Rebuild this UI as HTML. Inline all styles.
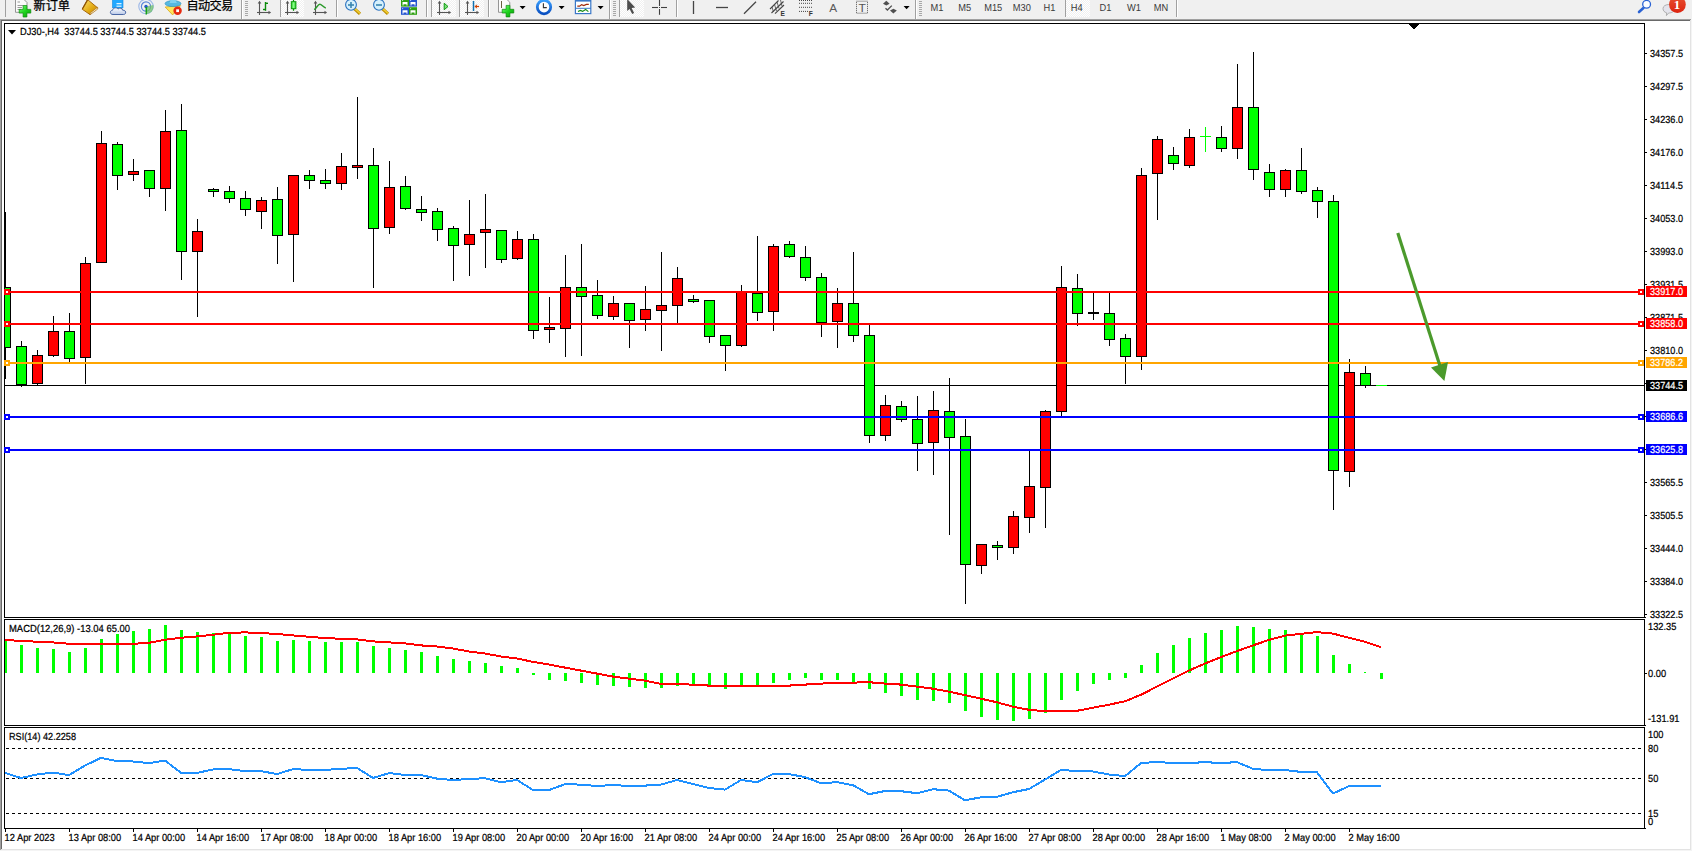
<!DOCTYPE html>
<html><head><meta charset="utf-8"><title>DJ30-,H4</title>
<style>html,body{margin:0;padding:0;background:#fff}body{width:1692px;height:851px;overflow:hidden}svg{display:block}text{white-space:pre}</style>
</head><body>
<svg width="1692" height="851" viewBox="0 0 1692 851">
<rect x="0" y="0" width="1692" height="851" fill="#ffffff"/>
<rect x="0" y="0" width="1692" height="19" fill="#f0f0f0"/>
<rect x="0" y="19" width="1691" height="1" fill="#a0a0a0"/>
<rect x="1" y="20" width="1689" height="1" fill="#696969"/>
<rect x="0" y="19" width="1" height="831" fill="#a0a0a0"/>
<rect x="1" y="20" width="1" height="829" fill="#696969"/>
<rect x="1690" y="20" width="1" height="830" fill="#e3e3e3"/>
<rect x="1691" y="19" width="1" height="832" fill="#f4f4f4"/>
<rect x="1" y="849" width="1690" height="1" fill="#e3e3e3"/>
<rect x="0" y="850" width="1692" height="1" fill="#f4f4f4"/>
<rect x="4" y="23" width="1641" height="1" fill="#000"/>
<rect x="4" y="617" width="1642" height="1" fill="#000"/>
<rect x="4" y="23" width="1" height="595" fill="#000"/>
<rect x="1644" y="23" width="1" height="595" fill="#000"/>
<rect x="4" y="619" width="1641" height="1" fill="#000"/>
<rect x="4" y="725" width="1642" height="1" fill="#000"/>
<rect x="4" y="619" width="1" height="107" fill="#000"/>
<rect x="1644" y="619" width="1" height="107" fill="#000"/>
<rect x="4" y="727" width="1641" height="1" fill="#000"/>
<rect x="4" y="828" width="1642" height="1" fill="#000"/>
<rect x="4" y="727" width="1" height="102" fill="#000"/>
<rect x="1644" y="727" width="1" height="102" fill="#000"/>
<g shape-rendering="crispEdges">
<clipPath id="cm"><rect x="5" y="24" width="1639" height="593"/></clipPath>
<g clip-path="url(#cm)">
<rect x="5" y="385" width="1639" height="1" fill="#000"/>
<rect x="5" y="212" width="1" height="167" fill="#000"/>
<rect x="0" y="287" width="11" height="61" fill="#000"/>
<rect x="1" y="288" width="9" height="59" fill="#00ff00"/>
<rect x="21" y="341" width="1" height="46" fill="#000"/>
<rect x="16" y="346" width="11" height="39" fill="#000"/>
<rect x="17" y="347" width="9" height="37" fill="#00ff00"/>
<rect x="37" y="350" width="1" height="35" fill="#000"/>
<rect x="32" y="355" width="11" height="29" fill="#000"/>
<rect x="33" y="356" width="9" height="27" fill="#ff0000"/>
<rect x="53" y="316" width="1" height="41" fill="#000"/>
<rect x="48" y="331" width="11" height="25" fill="#000"/>
<rect x="49" y="332" width="9" height="23" fill="#ff0000"/>
<rect x="69" y="313" width="1" height="49" fill="#000"/>
<rect x="64" y="331" width="11" height="28" fill="#000"/>
<rect x="65" y="332" width="9" height="26" fill="#00ff00"/>
<rect x="85" y="257" width="1" height="127" fill="#000"/>
<rect x="80" y="263" width="11" height="95" fill="#000"/>
<rect x="81" y="264" width="9" height="93" fill="#ff0000"/>
<rect x="101" y="131" width="1" height="132" fill="#000"/>
<rect x="96" y="143" width="11" height="120" fill="#000"/>
<rect x="97" y="144" width="9" height="118" fill="#ff0000"/>
<rect x="117" y="142" width="1" height="48" fill="#000"/>
<rect x="112" y="144" width="11" height="32" fill="#000"/>
<rect x="113" y="145" width="9" height="30" fill="#00ff00"/>
<rect x="133" y="159" width="1" height="22" fill="#000"/>
<rect x="128" y="171" width="11" height="4" fill="#000"/>
<rect x="129" y="172" width="9" height="2" fill="#ff0000"/>
<rect x="149" y="170" width="1" height="27" fill="#000"/>
<rect x="144" y="170" width="11" height="19" fill="#000"/>
<rect x="145" y="171" width="9" height="17" fill="#00ff00"/>
<rect x="165" y="110" width="1" height="101" fill="#000"/>
<rect x="160" y="131" width="11" height="58" fill="#000"/>
<rect x="161" y="132" width="9" height="56" fill="#ff0000"/>
<rect x="181" y="104" width="1" height="176" fill="#000"/>
<rect x="176" y="130" width="11" height="122" fill="#000"/>
<rect x="177" y="131" width="9" height="120" fill="#00ff00"/>
<rect x="197" y="219" width="1" height="98" fill="#000"/>
<rect x="192" y="231" width="11" height="21" fill="#000"/>
<rect x="193" y="232" width="9" height="19" fill="#ff0000"/>
<rect x="213" y="188" width="1" height="9" fill="#000"/>
<rect x="208" y="189" width="11" height="3" fill="#000"/>
<rect x="209" y="190" width="9" height="1" fill="#00ff00"/>
<rect x="229" y="186" width="1" height="17" fill="#000"/>
<rect x="224" y="191" width="11" height="8" fill="#000"/>
<rect x="225" y="192" width="9" height="6" fill="#00ff00"/>
<rect x="245" y="191" width="1" height="25" fill="#000"/>
<rect x="240" y="198" width="11" height="12" fill="#000"/>
<rect x="241" y="199" width="9" height="10" fill="#00ff00"/>
<rect x="261" y="197" width="1" height="32" fill="#000"/>
<rect x="256" y="200" width="11" height="12" fill="#000"/>
<rect x="257" y="201" width="9" height="10" fill="#ff0000"/>
<rect x="277" y="187" width="1" height="77" fill="#000"/>
<rect x="272" y="199" width="11" height="37" fill="#000"/>
<rect x="273" y="200" width="9" height="35" fill="#00ff00"/>
<rect x="293" y="175" width="1" height="107" fill="#000"/>
<rect x="288" y="175" width="11" height="60" fill="#000"/>
<rect x="289" y="176" width="9" height="58" fill="#ff0000"/>
<rect x="309" y="170" width="1" height="19" fill="#000"/>
<rect x="304" y="175" width="11" height="6" fill="#000"/>
<rect x="305" y="176" width="9" height="4" fill="#00ff00"/>
<rect x="325" y="169" width="1" height="20" fill="#000"/>
<rect x="320" y="180" width="11" height="4" fill="#000"/>
<rect x="321" y="181" width="9" height="2" fill="#00ff00"/>
<rect x="341" y="153" width="1" height="37" fill="#000"/>
<rect x="336" y="166" width="11" height="18" fill="#000"/>
<rect x="337" y="167" width="9" height="16" fill="#ff0000"/>
<rect x="357" y="97" width="1" height="82" fill="#000"/>
<rect x="352" y="165" width="11" height="3" fill="#000"/>
<rect x="353" y="166" width="9" height="1" fill="#ff0000"/>
<rect x="373" y="148" width="1" height="140" fill="#000"/>
<rect x="368" y="165" width="11" height="64" fill="#000"/>
<rect x="369" y="166" width="9" height="62" fill="#00ff00"/>
<rect x="389" y="161" width="1" height="73" fill="#000"/>
<rect x="384" y="187" width="11" height="41" fill="#000"/>
<rect x="385" y="188" width="9" height="39" fill="#ff0000"/>
<rect x="405" y="176" width="1" height="34" fill="#000"/>
<rect x="400" y="186" width="11" height="23" fill="#000"/>
<rect x="401" y="187" width="9" height="21" fill="#00ff00"/>
<rect x="421" y="196" width="1" height="25" fill="#000"/>
<rect x="416" y="209" width="11" height="4" fill="#000"/>
<rect x="417" y="210" width="9" height="2" fill="#00ff00"/>
<rect x="437" y="208" width="1" height="33" fill="#000"/>
<rect x="432" y="211" width="11" height="19" fill="#000"/>
<rect x="433" y="212" width="9" height="17" fill="#00ff00"/>
<rect x="453" y="226" width="1" height="55" fill="#000"/>
<rect x="448" y="228" width="11" height="18" fill="#000"/>
<rect x="449" y="229" width="9" height="16" fill="#00ff00"/>
<rect x="469" y="200" width="1" height="76" fill="#000"/>
<rect x="464" y="234" width="11" height="11" fill="#000"/>
<rect x="465" y="235" width="9" height="9" fill="#ff0000"/>
<rect x="485" y="194" width="1" height="74" fill="#000"/>
<rect x="480" y="229" width="11" height="4" fill="#000"/>
<rect x="481" y="230" width="9" height="2" fill="#ff0000"/>
<rect x="501" y="230" width="1" height="33" fill="#000"/>
<rect x="496" y="230" width="11" height="30" fill="#000"/>
<rect x="497" y="231" width="9" height="28" fill="#00ff00"/>
<rect x="517" y="231" width="1" height="29" fill="#000"/>
<rect x="512" y="239" width="11" height="20" fill="#000"/>
<rect x="513" y="240" width="9" height="18" fill="#ff0000"/>
<rect x="533" y="234" width="1" height="105" fill="#000"/>
<rect x="528" y="239" width="11" height="92" fill="#000"/>
<rect x="529" y="240" width="9" height="90" fill="#00ff00"/>
<rect x="549" y="297" width="1" height="46" fill="#000"/>
<rect x="544" y="327" width="11" height="3" fill="#000"/>
<rect x="545" y="328" width="9" height="1" fill="#ff0000"/>
<rect x="565" y="255" width="1" height="102" fill="#000"/>
<rect x="560" y="287" width="11" height="42" fill="#000"/>
<rect x="561" y="288" width="9" height="40" fill="#ff0000"/>
<rect x="581" y="244" width="1" height="112" fill="#000"/>
<rect x="576" y="287" width="11" height="10" fill="#000"/>
<rect x="577" y="288" width="9" height="8" fill="#00ff00"/>
<rect x="597" y="280" width="1" height="39" fill="#000"/>
<rect x="592" y="295" width="11" height="21" fill="#000"/>
<rect x="593" y="296" width="9" height="19" fill="#00ff00"/>
<rect x="613" y="296" width="1" height="24" fill="#000"/>
<rect x="608" y="303" width="11" height="14" fill="#000"/>
<rect x="609" y="304" width="9" height="12" fill="#ff0000"/>
<rect x="629" y="303" width="1" height="45" fill="#000"/>
<rect x="624" y="303" width="11" height="18" fill="#000"/>
<rect x="625" y="304" width="9" height="16" fill="#00ff00"/>
<rect x="645" y="286" width="1" height="45" fill="#000"/>
<rect x="640" y="309" width="11" height="11" fill="#000"/>
<rect x="641" y="310" width="9" height="9" fill="#ff0000"/>
<rect x="661" y="252" width="1" height="99" fill="#000"/>
<rect x="656" y="305" width="11" height="6" fill="#000"/>
<rect x="657" y="306" width="9" height="4" fill="#ff0000"/>
<rect x="677" y="267" width="1" height="56" fill="#000"/>
<rect x="672" y="278" width="11" height="28" fill="#000"/>
<rect x="673" y="279" width="9" height="26" fill="#ff0000"/>
<rect x="693" y="295" width="1" height="8" fill="#000"/>
<rect x="688" y="299" width="11" height="3" fill="#000"/>
<rect x="689" y="300" width="9" height="1" fill="#00ff00"/>
<rect x="709" y="300" width="1" height="43" fill="#000"/>
<rect x="704" y="300" width="11" height="37" fill="#000"/>
<rect x="705" y="301" width="9" height="35" fill="#00ff00"/>
<rect x="725" y="335" width="1" height="36" fill="#000"/>
<rect x="720" y="335" width="11" height="11" fill="#000"/>
<rect x="721" y="336" width="9" height="9" fill="#00ff00"/>
<rect x="741" y="285" width="1" height="62" fill="#000"/>
<rect x="736" y="291" width="11" height="55" fill="#000"/>
<rect x="737" y="292" width="9" height="53" fill="#ff0000"/>
<rect x="757" y="236" width="1" height="85" fill="#000"/>
<rect x="752" y="293" width="11" height="20" fill="#000"/>
<rect x="753" y="294" width="9" height="18" fill="#00ff00"/>
<rect x="773" y="244" width="1" height="87" fill="#000"/>
<rect x="768" y="246" width="11" height="66" fill="#000"/>
<rect x="769" y="247" width="9" height="64" fill="#ff0000"/>
<rect x="789" y="241" width="1" height="17" fill="#000"/>
<rect x="784" y="244" width="11" height="13" fill="#000"/>
<rect x="785" y="245" width="9" height="11" fill="#00ff00"/>
<rect x="805" y="246" width="1" height="35" fill="#000"/>
<rect x="800" y="257" width="11" height="21" fill="#000"/>
<rect x="801" y="258" width="9" height="19" fill="#00ff00"/>
<rect x="821" y="273" width="1" height="64" fill="#000"/>
<rect x="816" y="277" width="11" height="46" fill="#000"/>
<rect x="817" y="278" width="9" height="44" fill="#00ff00"/>
<rect x="837" y="288" width="1" height="60" fill="#000"/>
<rect x="832" y="303" width="11" height="19" fill="#000"/>
<rect x="833" y="304" width="9" height="17" fill="#ff0000"/>
<rect x="853" y="252" width="1" height="90" fill="#000"/>
<rect x="848" y="303" width="11" height="33" fill="#000"/>
<rect x="849" y="304" width="9" height="31" fill="#00ff00"/>
<rect x="869" y="325" width="1" height="118" fill="#000"/>
<rect x="864" y="335" width="11" height="101" fill="#000"/>
<rect x="865" y="336" width="9" height="99" fill="#00ff00"/>
<rect x="885" y="395" width="1" height="46" fill="#000"/>
<rect x="880" y="405" width="11" height="31" fill="#000"/>
<rect x="881" y="406" width="9" height="29" fill="#ff0000"/>
<rect x="901" y="401" width="1" height="21" fill="#000"/>
<rect x="896" y="406" width="11" height="14" fill="#000"/>
<rect x="897" y="407" width="9" height="12" fill="#00ff00"/>
<rect x="917" y="396" width="1" height="75" fill="#000"/>
<rect x="912" y="419" width="11" height="25" fill="#000"/>
<rect x="913" y="420" width="9" height="23" fill="#00ff00"/>
<rect x="933" y="391" width="1" height="84" fill="#000"/>
<rect x="928" y="410" width="11" height="33" fill="#000"/>
<rect x="929" y="411" width="9" height="31" fill="#ff0000"/>
<rect x="949" y="378" width="1" height="157" fill="#000"/>
<rect x="944" y="411" width="11" height="27" fill="#000"/>
<rect x="945" y="412" width="9" height="25" fill="#00ff00"/>
<rect x="965" y="419" width="1" height="185" fill="#000"/>
<rect x="960" y="436" width="11" height="129" fill="#000"/>
<rect x="961" y="437" width="9" height="127" fill="#00ff00"/>
<rect x="981" y="544" width="1" height="30" fill="#000"/>
<rect x="976" y="544" width="11" height="22" fill="#000"/>
<rect x="977" y="545" width="9" height="20" fill="#ff0000"/>
<rect x="997" y="541" width="1" height="19" fill="#000"/>
<rect x="992" y="545" width="11" height="3" fill="#000"/>
<rect x="993" y="546" width="9" height="1" fill="#00ff00"/>
<rect x="1013" y="511" width="1" height="43" fill="#000"/>
<rect x="1008" y="516" width="11" height="32" fill="#000"/>
<rect x="1009" y="517" width="9" height="30" fill="#ff0000"/>
<rect x="1029" y="451" width="1" height="82" fill="#000"/>
<rect x="1024" y="486" width="11" height="32" fill="#000"/>
<rect x="1025" y="487" width="9" height="30" fill="#ff0000"/>
<rect x="1045" y="410" width="1" height="118" fill="#000"/>
<rect x="1040" y="411" width="11" height="77" fill="#000"/>
<rect x="1041" y="412" width="9" height="75" fill="#ff0000"/>
<rect x="1061" y="266" width="1" height="150" fill="#000"/>
<rect x="1056" y="287" width="11" height="125" fill="#000"/>
<rect x="1057" y="288" width="9" height="123" fill="#ff0000"/>
<rect x="1077" y="274" width="1" height="52" fill="#000"/>
<rect x="1072" y="288" width="11" height="26" fill="#000"/>
<rect x="1073" y="289" width="9" height="24" fill="#00ff00"/>
<rect x="1093" y="292" width="1" height="28" fill="#000"/>
<rect x="1088" y="312" width="11" height="2" fill="#000"/>
<rect x="1109" y="291" width="1" height="55" fill="#000"/>
<rect x="1104" y="313" width="11" height="27" fill="#000"/>
<rect x="1105" y="314" width="9" height="25" fill="#00ff00"/>
<rect x="1125" y="334" width="1" height="50" fill="#000"/>
<rect x="1120" y="338" width="11" height="19" fill="#000"/>
<rect x="1121" y="339" width="9" height="17" fill="#00ff00"/>
<rect x="1141" y="168" width="1" height="202" fill="#000"/>
<rect x="1136" y="175" width="11" height="182" fill="#000"/>
<rect x="1137" y="176" width="9" height="180" fill="#ff0000"/>
<rect x="1157" y="136" width="1" height="84" fill="#000"/>
<rect x="1152" y="139" width="11" height="35" fill="#000"/>
<rect x="1153" y="140" width="9" height="33" fill="#ff0000"/>
<rect x="1173" y="147" width="1" height="23" fill="#000"/>
<rect x="1168" y="155" width="11" height="9" fill="#000"/>
<rect x="1169" y="156" width="9" height="7" fill="#00ff00"/>
<rect x="1189" y="129" width="1" height="39" fill="#000"/>
<rect x="1184" y="137" width="11" height="29" fill="#000"/>
<rect x="1185" y="138" width="9" height="27" fill="#ff0000"/>
<rect x="1221" y="126" width="1" height="26" fill="#000"/>
<rect x="1216" y="137" width="11" height="12" fill="#000"/>
<rect x="1217" y="138" width="9" height="10" fill="#00ff00"/>
<rect x="1237" y="64" width="1" height="95" fill="#000"/>
<rect x="1232" y="107" width="11" height="42" fill="#000"/>
<rect x="1233" y="108" width="9" height="40" fill="#ff0000"/>
<rect x="1253" y="52" width="1" height="128" fill="#000"/>
<rect x="1248" y="107" width="11" height="63" fill="#000"/>
<rect x="1249" y="108" width="9" height="61" fill="#00ff00"/>
<rect x="1269" y="164" width="1" height="33" fill="#000"/>
<rect x="1264" y="172" width="11" height="18" fill="#000"/>
<rect x="1265" y="173" width="9" height="16" fill="#00ff00"/>
<rect x="1285" y="169" width="1" height="28" fill="#000"/>
<rect x="1280" y="170" width="11" height="20" fill="#000"/>
<rect x="1281" y="171" width="9" height="18" fill="#ff0000"/>
<rect x="1301" y="148" width="1" height="46" fill="#000"/>
<rect x="1296" y="170" width="11" height="22" fill="#000"/>
<rect x="1297" y="171" width="9" height="20" fill="#00ff00"/>
<rect x="1317" y="187" width="1" height="31" fill="#000"/>
<rect x="1312" y="190" width="11" height="12" fill="#000"/>
<rect x="1313" y="191" width="9" height="10" fill="#00ff00"/>
<rect x="1333" y="195" width="1" height="315" fill="#000"/>
<rect x="1328" y="201" width="11" height="270" fill="#000"/>
<rect x="1329" y="202" width="9" height="268" fill="#00ff00"/>
<rect x="1349" y="359" width="1" height="128" fill="#000"/>
<rect x="1344" y="372" width="11" height="100" fill="#000"/>
<rect x="1345" y="373" width="9" height="98" fill="#ff0000"/>
<rect x="1365" y="366" width="1" height="22" fill="#000"/>
<rect x="1360" y="373" width="11" height="13" fill="#000"/>
<rect x="1361" y="374" width="9" height="11" fill="#00ff00"/>
<rect x="1205" y="127" width="1" height="25" fill="#00ff00"/>
<rect x="1200" y="136" width="11" height="1" fill="#00ff00"/>
<rect x="1376" y="385" width="11" height="1" fill="#00ff00"/>
</g>
<rect x="5" y="291" width="1639" height="2" fill="#ff0000"/>
<rect x="4" y="289" width="6" height="6" fill="#ff0000"/>
<rect x="6" y="291" width="2" height="2" fill="#fff"/>
<rect x="1638" y="289" width="6" height="6" fill="#ff0000"/>
<rect x="1640" y="291" width="2" height="2" fill="#fff"/>
<rect x="5" y="323" width="1639" height="2" fill="#ff0000"/>
<rect x="4" y="321" width="6" height="6" fill="#ff0000"/>
<rect x="6" y="323" width="2" height="2" fill="#fff"/>
<rect x="1638" y="321" width="6" height="6" fill="#ff0000"/>
<rect x="1640" y="323" width="2" height="2" fill="#fff"/>
<rect x="5" y="362" width="1639" height="2" fill="#ffa500"/>
<rect x="4" y="360" width="6" height="6" fill="#ffa500"/>
<rect x="6" y="362" width="2" height="2" fill="#fff"/>
<rect x="1638" y="360" width="6" height="6" fill="#ffa500"/>
<rect x="1640" y="362" width="2" height="2" fill="#fff"/>
<rect x="5" y="416" width="1639" height="2" fill="#0000ff"/>
<rect x="4" y="414" width="6" height="6" fill="#0000ff"/>
<rect x="6" y="416" width="2" height="2" fill="#fff"/>
<rect x="1638" y="414" width="6" height="6" fill="#0000ff"/>
<rect x="1640" y="416" width="2" height="2" fill="#fff"/>
<rect x="5" y="449" width="1639" height="2" fill="#0000ff"/>
<rect x="4" y="447" width="6" height="6" fill="#0000ff"/>
<rect x="6" y="449" width="2" height="2" fill="#fff"/>
<rect x="1638" y="447" width="6" height="6" fill="#0000ff"/>
<rect x="1640" y="449" width="2" height="2" fill="#fff"/>
<polygon points="1408,24 1419,24 1413.5,29.5" fill="#000"/>
</g>
<line x1="1397.8" y1="233" x2="1440" y2="366" stroke="#4b9a2c" stroke-width="3.2"/>
<polygon points="1431,367.4 1448,362 1444.4,381" fill="#4b9a2c"/>
<g font-family="Liberation Sans, Noto Sans CJK SC, sans-serif">
<rect x="1645" y="53" width="2" height="1" fill="#000" shape-rendering="crispEdges"/>
<text text-rendering="geometricPrecision" transform="translate(1650,56.6) scale(1,1.1)" font-size="9.3" fill="#000" text-anchor="start" textLength="33" lengthAdjust="spacingAndGlyphs" stroke="#000" stroke-width="0.2">34357.5</text>
<rect x="1645" y="86" width="2" height="1" fill="#000" shape-rendering="crispEdges"/>
<text text-rendering="geometricPrecision" transform="translate(1650,89.6) scale(1,1.1)" font-size="9.3" fill="#000" text-anchor="start" textLength="33" lengthAdjust="spacingAndGlyphs" stroke="#000" stroke-width="0.2">34297.5</text>
<rect x="1645" y="119" width="2" height="1" fill="#000" shape-rendering="crispEdges"/>
<text text-rendering="geometricPrecision" transform="translate(1650,122.6) scale(1,1.1)" font-size="9.3" fill="#000" text-anchor="start" textLength="33" lengthAdjust="spacingAndGlyphs" stroke="#000" stroke-width="0.2">34236.0</text>
<rect x="1645" y="152" width="2" height="1" fill="#000" shape-rendering="crispEdges"/>
<text text-rendering="geometricPrecision" transform="translate(1650,155.6) scale(1,1.1)" font-size="9.3" fill="#000" text-anchor="start" textLength="33" lengthAdjust="spacingAndGlyphs" stroke="#000" stroke-width="0.2">34176.0</text>
<rect x="1645" y="185" width="2" height="1" fill="#000" shape-rendering="crispEdges"/>
<text text-rendering="geometricPrecision" transform="translate(1650,188.6) scale(1,1.1)" font-size="9.3" fill="#000" text-anchor="start" textLength="33" lengthAdjust="spacingAndGlyphs" stroke="#000" stroke-width="0.2">34114.5</text>
<rect x="1645" y="218" width="2" height="1" fill="#000" shape-rendering="crispEdges"/>
<text text-rendering="geometricPrecision" transform="translate(1650,221.6) scale(1,1.1)" font-size="9.3" fill="#000" text-anchor="start" textLength="33" lengthAdjust="spacingAndGlyphs" stroke="#000" stroke-width="0.2">34053.0</text>
<rect x="1645" y="251" width="2" height="1" fill="#000" shape-rendering="crispEdges"/>
<text text-rendering="geometricPrecision" transform="translate(1650,254.6) scale(1,1.1)" font-size="9.3" fill="#000" text-anchor="start" textLength="33" lengthAdjust="spacingAndGlyphs" stroke="#000" stroke-width="0.2">33993.0</text>
<rect x="1645" y="284" width="2" height="1" fill="#000" shape-rendering="crispEdges"/>
<text text-rendering="geometricPrecision" transform="translate(1650,287.6) scale(1,1.1)" font-size="9.3" fill="#000" text-anchor="start" textLength="33" lengthAdjust="spacingAndGlyphs" stroke="#000" stroke-width="0.2">33931.5</text>
<rect x="1645" y="317" width="2" height="1" fill="#000" shape-rendering="crispEdges"/>
<text text-rendering="geometricPrecision" transform="translate(1650,320.6) scale(1,1.1)" font-size="9.3" fill="#000" text-anchor="start" textLength="33" lengthAdjust="spacingAndGlyphs" stroke="#000" stroke-width="0.2">33871.5</text>
<rect x="1645" y="350" width="2" height="1" fill="#000" shape-rendering="crispEdges"/>
<text text-rendering="geometricPrecision" transform="translate(1650,353.6) scale(1,1.1)" font-size="9.3" fill="#000" text-anchor="start" textLength="33" lengthAdjust="spacingAndGlyphs" stroke="#000" stroke-width="0.2">33810.0</text>
<rect x="1645" y="482" width="2" height="1" fill="#000" shape-rendering="crispEdges"/>
<text text-rendering="geometricPrecision" transform="translate(1650,485.6) scale(1,1.1)" font-size="9.3" fill="#000" text-anchor="start" textLength="33" lengthAdjust="spacingAndGlyphs" stroke="#000" stroke-width="0.2">33565.5</text>
<rect x="1645" y="515" width="2" height="1" fill="#000" shape-rendering="crispEdges"/>
<text text-rendering="geometricPrecision" transform="translate(1650,518.6) scale(1,1.1)" font-size="9.3" fill="#000" text-anchor="start" textLength="33" lengthAdjust="spacingAndGlyphs" stroke="#000" stroke-width="0.2">33505.5</text>
<rect x="1645" y="548" width="2" height="1" fill="#000" shape-rendering="crispEdges"/>
<text text-rendering="geometricPrecision" transform="translate(1650,551.6) scale(1,1.1)" font-size="9.3" fill="#000" text-anchor="start" textLength="33" lengthAdjust="spacingAndGlyphs" stroke="#000" stroke-width="0.2">33444.0</text>
<rect x="1645" y="581" width="2" height="1" fill="#000" shape-rendering="crispEdges"/>
<text text-rendering="geometricPrecision" transform="translate(1650,584.6) scale(1,1.1)" font-size="9.3" fill="#000" text-anchor="start" textLength="33" lengthAdjust="spacingAndGlyphs" stroke="#000" stroke-width="0.2">33384.0</text>
<rect x="1645" y="614" width="2" height="1" fill="#000" shape-rendering="crispEdges"/>
<text text-rendering="geometricPrecision" transform="translate(1650,617.6) scale(1,1.1)" font-size="9.3" fill="#000" text-anchor="start" textLength="33" lengthAdjust="spacingAndGlyphs" stroke="#000" stroke-width="0.2">33322.5</text>
<rect x="1645" y="383" width="2" height="1" fill="#000" shape-rendering="crispEdges"/>
<rect x="1645" y="416" width="2" height="1" fill="#000" shape-rendering="crispEdges"/>
<rect x="1645" y="449" width="2" height="1" fill="#000" shape-rendering="crispEdges"/>
<rect x="1646" y="286" width="41" height="11" fill="#ff0000" shape-rendering="crispEdges"/>
<text text-rendering="geometricPrecision" transform="translate(1650,294.9) scale(1,1.1)" font-size="9.3" fill="#fff" text-anchor="start" textLength="33" lengthAdjust="spacingAndGlyphs" stroke="#fff" stroke-width="0.2">33917.0</text>
<rect x="1646" y="318" width="41" height="11" fill="#ff0000" shape-rendering="crispEdges"/>
<text text-rendering="geometricPrecision" transform="translate(1650,326.9) scale(1,1.1)" font-size="9.3" fill="#fff" text-anchor="start" textLength="33" lengthAdjust="spacingAndGlyphs" stroke="#fff" stroke-width="0.2">33858.0</text>
<rect x="1646" y="357" width="41" height="11" fill="#ffa500" shape-rendering="crispEdges"/>
<text text-rendering="geometricPrecision" transform="translate(1650,365.9) scale(1,1.1)" font-size="9.3" fill="#fff" text-anchor="start" textLength="33" lengthAdjust="spacingAndGlyphs" stroke="#fff" stroke-width="0.2">33786.2</text>
<rect x="1646" y="380" width="41" height="11" fill="#000" shape-rendering="crispEdges"/>
<text text-rendering="geometricPrecision" transform="translate(1650,388.9) scale(1,1.1)" font-size="9.3" fill="#fff" text-anchor="start" textLength="33" lengthAdjust="spacingAndGlyphs" stroke="#fff" stroke-width="0.2">33744.5</text>
<rect x="1646" y="411" width="41" height="11" fill="#0000ff" shape-rendering="crispEdges"/>
<text text-rendering="geometricPrecision" transform="translate(1650,419.9) scale(1,1.1)" font-size="9.3" fill="#fff" text-anchor="start" textLength="33" lengthAdjust="spacingAndGlyphs" stroke="#fff" stroke-width="0.2">33686.6</text>
<rect x="1646" y="444" width="41" height="11" fill="#0000ff" shape-rendering="crispEdges"/>
<text text-rendering="geometricPrecision" transform="translate(1650,452.9) scale(1,1.1)" font-size="9.3" fill="#fff" text-anchor="start" textLength="33" lengthAdjust="spacingAndGlyphs" stroke="#fff" stroke-width="0.2">33625.8</text>
<polygon points="8,30 16,30 12,34.5" fill="#000"/>
<text text-rendering="geometricPrecision" transform="translate(20,35) scale(1,1.1)" font-size="9.3" fill="#000" text-anchor="start" textLength="186" lengthAdjust="spacingAndGlyphs" stroke="#000" stroke-width="0.2">DJ30-,H4&#160;&#160;33744.5 33744.5 33744.5 33744.5</text>
<g shape-rendering="crispEdges">
<rect x="5" y="640" width="2" height="33" fill="#00ff00"/>
<rect x="20" y="645" width="3" height="28" fill="#00ff00"/>
<rect x="36" y="648" width="3" height="25" fill="#00ff00"/>
<rect x="52" y="649" width="3" height="24" fill="#00ff00"/>
<rect x="68" y="652" width="3" height="21" fill="#00ff00"/>
<rect x="84" y="648" width="3" height="25" fill="#00ff00"/>
<rect x="100" y="639" width="3" height="34" fill="#00ff00"/>
<rect x="116" y="634" width="3" height="39" fill="#00ff00"/>
<rect x="132" y="631" width="3" height="42" fill="#00ff00"/>
<rect x="148" y="629" width="3" height="44" fill="#00ff00"/>
<rect x="164" y="625" width="3" height="48" fill="#00ff00"/>
<rect x="180" y="630" width="3" height="43" fill="#00ff00"/>
<rect x="196" y="632" width="3" height="41" fill="#00ff00"/>
<rect x="212" y="633" width="3" height="40" fill="#00ff00"/>
<rect x="228" y="634" width="3" height="39" fill="#00ff00"/>
<rect x="244" y="636" width="3" height="37" fill="#00ff00"/>
<rect x="260" y="637" width="3" height="36" fill="#00ff00"/>
<rect x="276" y="641" width="3" height="32" fill="#00ff00"/>
<rect x="292" y="640" width="3" height="33" fill="#00ff00"/>
<rect x="308" y="641" width="3" height="32" fill="#00ff00"/>
<rect x="324" y="642" width="3" height="31" fill="#00ff00"/>
<rect x="340" y="642" width="3" height="31" fill="#00ff00"/>
<rect x="356" y="642" width="3" height="31" fill="#00ff00"/>
<rect x="372" y="646" width="3" height="27" fill="#00ff00"/>
<rect x="388" y="648" width="3" height="25" fill="#00ff00"/>
<rect x="404" y="650" width="3" height="23" fill="#00ff00"/>
<rect x="420" y="652" width="3" height="21" fill="#00ff00"/>
<rect x="436" y="656" width="3" height="17" fill="#00ff00"/>
<rect x="452" y="659" width="3" height="14" fill="#00ff00"/>
<rect x="468" y="661" width="3" height="12" fill="#00ff00"/>
<rect x="484" y="663" width="3" height="10" fill="#00ff00"/>
<rect x="500" y="666" width="3" height="7" fill="#00ff00"/>
<rect x="516" y="668" width="3" height="5" fill="#00ff00"/>
<rect x="532" y="673" width="3" height="2" fill="#00ff00"/>
<rect x="548" y="673" width="3" height="7" fill="#00ff00"/>
<rect x="564" y="673" width="3" height="8" fill="#00ff00"/>
<rect x="580" y="673" width="3" height="10" fill="#00ff00"/>
<rect x="596" y="673" width="3" height="12" fill="#00ff00"/>
<rect x="612" y="673" width="3" height="13" fill="#00ff00"/>
<rect x="628" y="673" width="3" height="14" fill="#00ff00"/>
<rect x="644" y="673" width="3" height="15" fill="#00ff00"/>
<rect x="660" y="673" width="3" height="15" fill="#00ff00"/>
<rect x="676" y="673" width="3" height="13" fill="#00ff00"/>
<rect x="692" y="673" width="3" height="12" fill="#00ff00"/>
<rect x="708" y="673" width="3" height="13" fill="#00ff00"/>
<rect x="724" y="673" width="3" height="16" fill="#00ff00"/>
<rect x="740" y="673" width="3" height="13" fill="#00ff00"/>
<rect x="756" y="673" width="3" height="13" fill="#00ff00"/>
<rect x="772" y="673" width="3" height="10" fill="#00ff00"/>
<rect x="788" y="673" width="3" height="7" fill="#00ff00"/>
<rect x="804" y="673" width="3" height="5" fill="#00ff00"/>
<rect x="820" y="673" width="3" height="7" fill="#00ff00"/>
<rect x="836" y="673" width="3" height="7" fill="#00ff00"/>
<rect x="852" y="673" width="3" height="10" fill="#00ff00"/>
<rect x="868" y="673" width="3" height="16" fill="#00ff00"/>
<rect x="884" y="673" width="3" height="20" fill="#00ff00"/>
<rect x="900" y="673" width="3" height="23" fill="#00ff00"/>
<rect x="916" y="673" width="3" height="27" fill="#00ff00"/>
<rect x="932" y="673" width="3" height="28" fill="#00ff00"/>
<rect x="948" y="673" width="3" height="30" fill="#00ff00"/>
<rect x="964" y="673" width="3" height="38" fill="#00ff00"/>
<rect x="980" y="673" width="3" height="44" fill="#00ff00"/>
<rect x="996" y="673" width="3" height="47" fill="#00ff00"/>
<rect x="1012" y="673" width="3" height="48" fill="#00ff00"/>
<rect x="1028" y="673" width="3" height="46" fill="#00ff00"/>
<rect x="1044" y="673" width="3" height="40" fill="#00ff00"/>
<rect x="1060" y="673" width="3" height="27" fill="#00ff00"/>
<rect x="1076" y="673" width="3" height="18" fill="#00ff00"/>
<rect x="1092" y="673" width="3" height="11" fill="#00ff00"/>
<rect x="1108" y="673" width="3" height="7" fill="#00ff00"/>
<rect x="1124" y="673" width="3" height="5" fill="#00ff00"/>
<rect x="1140" y="665" width="3" height="8" fill="#00ff00"/>
<rect x="1156" y="653" width="3" height="20" fill="#00ff00"/>
<rect x="1172" y="645" width="3" height="28" fill="#00ff00"/>
<rect x="1188" y="638" width="3" height="35" fill="#00ff00"/>
<rect x="1204" y="633" width="3" height="40" fill="#00ff00"/>
<rect x="1220" y="630" width="3" height="43" fill="#00ff00"/>
<rect x="1236" y="626" width="3" height="47" fill="#00ff00"/>
<rect x="1252" y="627" width="3" height="46" fill="#00ff00"/>
<rect x="1268" y="629" width="3" height="44" fill="#00ff00"/>
<rect x="1284" y="630" width="3" height="43" fill="#00ff00"/>
<rect x="1300" y="634" width="3" height="39" fill="#00ff00"/>
<rect x="1316" y="636" width="3" height="37" fill="#00ff00"/>
<rect x="1332" y="655" width="3" height="18" fill="#00ff00"/>
<rect x="1348" y="664" width="3" height="9" fill="#00ff00"/>
<rect x="1364" y="672" width="2" height="1" fill="#00ff00"/>
<rect x="1380" y="673" width="3" height="6" fill="#00ff00"/>
<polyline points="5,640.4 21,640.6 37,641.8 53,642.4 69,643.8 85,644.0 101,644.0 117,644.0 133,643.8 149,642.8 165,639.8 181,637.8 197,636.4 213,634.8 229,632.8 245,632.4 261,633.0 277,634.0 293,635.4 309,636.8 325,638.0 341,638.8 357,639.4 373,641.4 389,642.4 405,643.4 421,645.4 437,646.5 453,648.5 469,651.5 485,653.5 501,656.5 517,658.5 533,661.9 549,664.5 565,667.6 581,670.6 597,673.6 613,676.6 629,678.6 645,680.6 661,684.0 677,684.2 693,684.6 709,685.6 725,686.0 741,686.0 757,686.0 773,686.0 789,685.6 805,684.6 821,683.6 837,683.0 853,682.6 869,682.2 885,683.6 901,684.6 917,686.6 933,688.7 949,691.7 965,695.1 981,698.7 997,702.3 1013,706.7 1029,709.8 1045,711.2 1061,711.2 1077,710.8 1093,707.7 1109,704.7 1125,701.3 1141,694.7 1157,686.6 1173,678.6 1189,670.6 1205,663.5 1221,657.1 1237,651.1 1253,645.4 1269,639.9 1285,635.6 1301,633.8 1317,632.1 1333,633.6 1349,637.8 1365,641.8 1381,647.1" fill="none" stroke="#ff0000" stroke-width="2"/>
</g>
<text text-rendering="geometricPrecision" transform="translate(9,632) scale(1,1.1)" font-size="9.3" fill="#000" text-anchor="start" textLength="121" lengthAdjust="spacingAndGlyphs" stroke="#000" stroke-width="0.2">MACD(12,26,9) -13.04 65.00</text>
<text text-rendering="geometricPrecision" transform="translate(1648,630.0) scale(1,1.1)" font-size="9.3" fill="#000" text-anchor="start" textLength="28.4" lengthAdjust="spacingAndGlyphs" stroke="#000" stroke-width="0.2">132.35</text>
<text text-rendering="geometricPrecision" transform="translate(1648,676.5) scale(1,1.1)" font-size="9.3" fill="#000" text-anchor="start" textLength="18.1" lengthAdjust="spacingAndGlyphs" stroke="#000" stroke-width="0.2">0.00</text>
<text text-rendering="geometricPrecision" transform="translate(1648,722.0) scale(1,1.1)" font-size="9.3" fill="#000" text-anchor="start" textLength="31.5" lengthAdjust="spacingAndGlyphs" stroke="#000" stroke-width="0.2">-131.91</text>
<rect x="1645" y="673" width="2" height="1" fill="#000" shape-rendering="crispEdges"/>
<g shape-rendering="crispEdges">
<line x1="6" y1="748.5" x2="1644" y2="748.5" stroke="#000" stroke-width="1" stroke-dasharray="3 3"/>
<line x1="6" y1="778.5" x2="1644" y2="778.5" stroke="#000" stroke-width="1" stroke-dasharray="3 3"/>
<line x1="6" y1="813.5" x2="1644" y2="813.5" stroke="#000" stroke-width="1" stroke-dasharray="3 3"/>
<polyline points="5,772.9 21,778.0 37,774.5 53,772.5 69,775.1 85,765.5 101,757.9 117,761.1 133,761.5 149,763.1 165,760.5 181,772.9 197,772.9 213,769.5 229,769.1 245,771.1 261,771.1 277,774.1 293,769.1 309,769.9 325,769.9 341,768.9 357,767.9 373,778.0 389,773.1 405,774.9 421,775.1 437,778.6 453,780.0 469,779.0 485,778.2 501,782.2 517,780.0 533,790.0 549,790.0 565,784.2 581,784.6 597,786.0 613,785.0 629,786.0 645,785.6 661,784.6 677,780.0 693,784.0 709,788.0 725,789.6 741,780.0 757,782.2 773,774.1 789,774.1 805,777.1 821,783.2 837,782.2 853,785.2 869,794.2 885,791.0 901,791.2 917,793.2 933,789.2 949,790.6 965,800.3 981,797.3 997,796.8 1013,792.2 1029,789.0 1045,779.6 1061,769.9 1077,771.1 1093,771.5 1109,774.5 1125,776.1 1141,763.1 1157,761.9 1173,763.1 1189,763.1 1205,762.1 1221,763.1 1237,762.1 1253,768.9 1269,770.1 1285,770.1 1301,771.9 1317,772.3 1333,793.5 1349,786.1 1365,786.1 1381,786.1" fill="none" stroke="#1e90ff" stroke-width="2"/>
</g>
<text text-rendering="geometricPrecision" transform="translate(9,740) scale(1,1.1)" font-size="9.3" fill="#000" text-anchor="start" textLength="67" lengthAdjust="spacingAndGlyphs" stroke="#000" stroke-width="0.2">RSI(14) 42.2258</text>
<text text-rendering="geometricPrecision" transform="translate(1648,737.8) scale(1,1.1)" font-size="9.3" fill="#000" text-anchor="start" textLength="15.5" lengthAdjust="spacingAndGlyphs" stroke="#000" stroke-width="0.2">100</text>
<text text-rendering="geometricPrecision" transform="translate(1648,752.0) scale(1,1.1)" font-size="9.3" fill="#000" text-anchor="start" textLength="10.3" lengthAdjust="spacingAndGlyphs" stroke="#000" stroke-width="0.2">80</text>
<text text-rendering="geometricPrecision" transform="translate(1648,782.0) scale(1,1.1)" font-size="9.3" fill="#000" text-anchor="start" textLength="10.3" lengthAdjust="spacingAndGlyphs" stroke="#000" stroke-width="0.2">50</text>
<text text-rendering="geometricPrecision" transform="translate(1648,816.5) scale(1,1.1)" font-size="9.3" fill="#000" text-anchor="start" textLength="10.3" lengthAdjust="spacingAndGlyphs" stroke="#000" stroke-width="0.2">15</text>
<text text-rendering="geometricPrecision" transform="translate(1648,825.0) scale(1,1.1)" font-size="9.3" fill="#000" text-anchor="start" textLength="5.2" lengthAdjust="spacingAndGlyphs" stroke="#000" stroke-width="0.2">0</text>
<rect x="5" y="829" width="1" height="3" fill="#000" shape-rendering="crispEdges"/>
<text text-rendering="geometricPrecision" transform="translate(4.5,841) scale(1,1.1)" font-size="9.3" fill="#000" text-anchor="start" textLength="50.2" lengthAdjust="spacingAndGlyphs" stroke="#000" stroke-width="0.2">12 Apr 2023</text>
<rect x="69" y="829" width="1" height="3" fill="#000" shape-rendering="crispEdges"/>
<text text-rendering="geometricPrecision" transform="translate(68.5,841) scale(1,1.1)" font-size="9.3" fill="#000" text-anchor="start" textLength="52.7" lengthAdjust="spacingAndGlyphs" stroke="#000" stroke-width="0.2">13 Apr 08:00</text>
<rect x="133" y="829" width="1" height="3" fill="#000" shape-rendering="crispEdges"/>
<text text-rendering="geometricPrecision" transform="translate(132.5,841) scale(1,1.1)" font-size="9.3" fill="#000" text-anchor="start" textLength="52.7" lengthAdjust="spacingAndGlyphs" stroke="#000" stroke-width="0.2">14 Apr 00:00</text>
<rect x="197" y="829" width="1" height="3" fill="#000" shape-rendering="crispEdges"/>
<text text-rendering="geometricPrecision" transform="translate(196.5,841) scale(1,1.1)" font-size="9.3" fill="#000" text-anchor="start" textLength="52.7" lengthAdjust="spacingAndGlyphs" stroke="#000" stroke-width="0.2">14 Apr 16:00</text>
<rect x="261" y="829" width="1" height="3" fill="#000" shape-rendering="crispEdges"/>
<text text-rendering="geometricPrecision" transform="translate(260.5,841) scale(1,1.1)" font-size="9.3" fill="#000" text-anchor="start" textLength="52.7" lengthAdjust="spacingAndGlyphs" stroke="#000" stroke-width="0.2">17 Apr 08:00</text>
<rect x="325" y="829" width="1" height="3" fill="#000" shape-rendering="crispEdges"/>
<text text-rendering="geometricPrecision" transform="translate(324.5,841) scale(1,1.1)" font-size="9.3" fill="#000" text-anchor="start" textLength="52.7" lengthAdjust="spacingAndGlyphs" stroke="#000" stroke-width="0.2">18 Apr 00:00</text>
<rect x="389" y="829" width="1" height="3" fill="#000" shape-rendering="crispEdges"/>
<text text-rendering="geometricPrecision" transform="translate(388.5,841) scale(1,1.1)" font-size="9.3" fill="#000" text-anchor="start" textLength="52.7" lengthAdjust="spacingAndGlyphs" stroke="#000" stroke-width="0.2">18 Apr 16:00</text>
<rect x="453" y="829" width="1" height="3" fill="#000" shape-rendering="crispEdges"/>
<text text-rendering="geometricPrecision" transform="translate(452.5,841) scale(1,1.1)" font-size="9.3" fill="#000" text-anchor="start" textLength="52.7" lengthAdjust="spacingAndGlyphs" stroke="#000" stroke-width="0.2">19 Apr 08:00</text>
<rect x="517" y="829" width="1" height="3" fill="#000" shape-rendering="crispEdges"/>
<text text-rendering="geometricPrecision" transform="translate(516.5,841) scale(1,1.1)" font-size="9.3" fill="#000" text-anchor="start" textLength="52.7" lengthAdjust="spacingAndGlyphs" stroke="#000" stroke-width="0.2">20 Apr 00:00</text>
<rect x="581" y="829" width="1" height="3" fill="#000" shape-rendering="crispEdges"/>
<text text-rendering="geometricPrecision" transform="translate(580.5,841) scale(1,1.1)" font-size="9.3" fill="#000" text-anchor="start" textLength="52.7" lengthAdjust="spacingAndGlyphs" stroke="#000" stroke-width="0.2">20 Apr 16:00</text>
<rect x="645" y="829" width="1" height="3" fill="#000" shape-rendering="crispEdges"/>
<text text-rendering="geometricPrecision" transform="translate(644.5,841) scale(1,1.1)" font-size="9.3" fill="#000" text-anchor="start" textLength="52.7" lengthAdjust="spacingAndGlyphs" stroke="#000" stroke-width="0.2">21 Apr 08:00</text>
<rect x="709" y="829" width="1" height="3" fill="#000" shape-rendering="crispEdges"/>
<text text-rendering="geometricPrecision" transform="translate(708.5,841) scale(1,1.1)" font-size="9.3" fill="#000" text-anchor="start" textLength="52.7" lengthAdjust="spacingAndGlyphs" stroke="#000" stroke-width="0.2">24 Apr 00:00</text>
<rect x="773" y="829" width="1" height="3" fill="#000" shape-rendering="crispEdges"/>
<text text-rendering="geometricPrecision" transform="translate(772.5,841) scale(1,1.1)" font-size="9.3" fill="#000" text-anchor="start" textLength="52.7" lengthAdjust="spacingAndGlyphs" stroke="#000" stroke-width="0.2">24 Apr 16:00</text>
<rect x="837" y="829" width="1" height="3" fill="#000" shape-rendering="crispEdges"/>
<text text-rendering="geometricPrecision" transform="translate(836.5,841) scale(1,1.1)" font-size="9.3" fill="#000" text-anchor="start" textLength="52.7" lengthAdjust="spacingAndGlyphs" stroke="#000" stroke-width="0.2">25 Apr 08:00</text>
<rect x="901" y="829" width="1" height="3" fill="#000" shape-rendering="crispEdges"/>
<text text-rendering="geometricPrecision" transform="translate(900.5,841) scale(1,1.1)" font-size="9.3" fill="#000" text-anchor="start" textLength="52.7" lengthAdjust="spacingAndGlyphs" stroke="#000" stroke-width="0.2">26 Apr 00:00</text>
<rect x="965" y="829" width="1" height="3" fill="#000" shape-rendering="crispEdges"/>
<text text-rendering="geometricPrecision" transform="translate(964.5,841) scale(1,1.1)" font-size="9.3" fill="#000" text-anchor="start" textLength="52.7" lengthAdjust="spacingAndGlyphs" stroke="#000" stroke-width="0.2">26 Apr 16:00</text>
<rect x="1029" y="829" width="1" height="3" fill="#000" shape-rendering="crispEdges"/>
<text text-rendering="geometricPrecision" transform="translate(1028.5,841) scale(1,1.1)" font-size="9.3" fill="#000" text-anchor="start" textLength="52.7" lengthAdjust="spacingAndGlyphs" stroke="#000" stroke-width="0.2">27 Apr 08:00</text>
<rect x="1093" y="829" width="1" height="3" fill="#000" shape-rendering="crispEdges"/>
<text text-rendering="geometricPrecision" transform="translate(1092.5,841) scale(1,1.1)" font-size="9.3" fill="#000" text-anchor="start" textLength="52.7" lengthAdjust="spacingAndGlyphs" stroke="#000" stroke-width="0.2">28 Apr 00:00</text>
<rect x="1157" y="829" width="1" height="3" fill="#000" shape-rendering="crispEdges"/>
<text text-rendering="geometricPrecision" transform="translate(1156.5,841) scale(1,1.1)" font-size="9.3" fill="#000" text-anchor="start" textLength="52.7" lengthAdjust="spacingAndGlyphs" stroke="#000" stroke-width="0.2">28 Apr 16:00</text>
<rect x="1221" y="829" width="1" height="3" fill="#000" shape-rendering="crispEdges"/>
<text text-rendering="geometricPrecision" transform="translate(1220.5,841) scale(1,1.1)" font-size="9.3" fill="#000" text-anchor="start" textLength="51.2" lengthAdjust="spacingAndGlyphs" stroke="#000" stroke-width="0.2">1 May 08:00</text>
<rect x="1285" y="829" width="1" height="3" fill="#000" shape-rendering="crispEdges"/>
<text text-rendering="geometricPrecision" transform="translate(1284.5,841) scale(1,1.1)" font-size="9.3" fill="#000" text-anchor="start" textLength="51.2" lengthAdjust="spacingAndGlyphs" stroke="#000" stroke-width="0.2">2 May 00:00</text>
<rect x="1349" y="829" width="1" height="3" fill="#000" shape-rendering="crispEdges"/>
<text text-rendering="geometricPrecision" transform="translate(1348.5,841) scale(1,1.1)" font-size="9.3" fill="#000" text-anchor="start" textLength="51.2" lengthAdjust="spacingAndGlyphs" stroke="#000" stroke-width="0.2">2 May 16:00</text>
</g>
<defs>
<pattern id="chk" width="2" height="2" patternUnits="userSpaceOnUse"><rect width="2" height="2" fill="#f0f0f0"/><rect width="1" height="1" fill="#fff"/><rect x="1" y="1" width="1" height="1" fill="#fff"/></pattern>
<linearGradient id="gplus" x1="0" y1="0" x2="1" y2="1"><stop offset="0" stop-color="#7dff7d"/><stop offset="0.5" stop-color="#1fd51f"/><stop offset="1" stop-color="#0a9a0a"/></linearGradient>
<linearGradient id="ggold" x1="0" y1="0" x2="1" y2="1"><stop offset="0" stop-color="#ffe36a"/><stop offset="0.6" stop-color="#e0a812"/><stop offset="1" stop-color="#b87a08"/></linearGradient>
<linearGradient id="gblue" x1="0" y1="0" x2="0" y2="1"><stop offset="0" stop-color="#3aa0ff"/><stop offset="1" stop-color="#0a4fc0"/></linearGradient>
<linearGradient id="gred" x1="0" y1="0" x2="0" y2="1"><stop offset="0" stop-color="#e85030"/><stop offset="1" stop-color="#dc2410"/></linearGradient>
<linearGradient id="gcloud" x1="0" y1="0" x2="0" y2="1"><stop offset="0" stop-color="#ffffff"/><stop offset="1" stop-color="#b8c8e8"/></linearGradient>
<linearGradient id="gcand" x1="0" y1="0" x2="1" y2="0"><stop offset="0" stop-color="#22cc22"/><stop offset="0.5" stop-color="#8aff8a"/><stop offset="1" stop-color="#22cc22"/></linearGradient>
<clipPath id="tbclip"><rect x="0" y="0" width="1692" height="19"/></clipPath>
</defs>
<g id="toolbar" clip-path="url(#tbclip)">
<rect x="5" y="0" width="1" height="17" fill="#a0a0a0" shape-rendering="crispEdges"/>
<path d="M15.5,-1 L23.5,-1 L27,2.5 L27,12.3 L15.5,12.3 Z" fill="#fbfbfb" stroke="#8a8a8a" stroke-width="0.9"/>
<g stroke="#9a9a9a" stroke-width="1"><line x1="17.5" y1="2" x2="20" y2="2"/><line x1="17.5" y1="5.5" x2="23" y2="5.5"/><line x1="17.5" y1="7.5" x2="22" y2="7.5"/><line x1="17.5" y1="9.5" x2="21" y2="9.5"/></g>
<path d="M23.1,5.5 h3.8 v3.9 h3.9 v3.7 h-3.9 v3.9 h-3.8 v-3.9 h-3.9 v-3.7 h3.9 z" fill="url(#gplus)" stroke="#0c8a0c" stroke-width="0.7"/>
<text x="33.5" y="10.2" font-size="12.2" fill="#000" stroke="#000" stroke-width="0.25" font-family="Liberation Sans, Noto Sans CJK SC, sans-serif">新订单</text>
<path d="M87.5,-0.5 L97.8,8 L90,14.6 L82.2,9.2 Z" fill="url(#ggold)" stroke="#a8680c" stroke-width="1"/>
<path d="M90.2,13 L97.6,7.2 L97.8,9 L90,14.8 Z" fill="#f6ecc8" stroke="#a8680c" stroke-width="0.6"/>
<path d="M82.4,9 L87.6,0" fill="none" stroke="#8a5208" stroke-width="1.2"/>
<path d="M112.5,-1 L123,-1 L123,8 L112.5,8 Z" fill="#22a8ff" stroke="#1088e0" stroke-width="0.6"/>
<rect x="116.5" y="3" width="5" height="1.3" fill="#dff3ff"/><rect x="116.5" y="5.6" width="5" height="1.2" fill="#dff3ff"/>
<path d="M113,14.5 C109.5,14.5 109.6,10.4 112.6,10.2 C113,7.6 116.8,7 118,9 C119.6,7.4 122.6,8.2 122.6,10.2 C126.4,9.8 126.8,14.5 123.4,14.5 Z" fill="url(#gcloud)" stroke="#4a68a6" stroke-width="1"/>
<g fill="none"><circle cx="146" cy="6.5" r="7.2" stroke="#9db8e8" stroke-width="1.1"/><circle cx="146" cy="6.5" r="4.6" stroke="#5a86d8" stroke-width="1.2"/><path d="M146,6.5 L146,14.2 A7.7,7.7 0 0 0 153.5,5 Z" fill="#6fc06a" opacity="0.75"/><circle cx="146" cy="6.5" r="1.7" fill="#2458c8"/><line x1="146.3" y1="7" x2="146.3" y2="14.5" stroke="#18a018" stroke-width="1.5"/></g>
<path d="M165.2,7 L180.6,5.6 L172.6,14.9 Z" fill="#ffe45a" stroke="#d8a818" stroke-width="0.8"/>
<ellipse cx="173" cy="3.6" rx="8" ry="3" fill="#56b8e0" stroke="#2a90c0" stroke-width="0.6"/><path d="M169.5,3 C170.5,0 171,-1 171.5,-2 L174.8,-2 C175.2,-1 175.8,0 176.8,3 Z" fill="#7fd0f0"/>
<circle cx="177.6" cy="10.7" r="4.2" fill="#e62a10"/><rect x="176.2" y="9.3" width="2.8" height="2.8" fill="#fff"/>
<text x="186.6" y="10.2" font-size="12.2" fill="#000" stroke="#000" stroke-width="0.25" font-family="Liberation Sans, Noto Sans CJK SC, sans-serif" textLength="46.5" lengthAdjust="spacing">自动交易</text>
<rect x="241" y="0" width="1" height="19" fill="#a0a0a0" shape-rendering="crispEdges"/><rect x="242" y="0" width="1" height="19" fill="#fff" shape-rendering="crispEdges"/>
<rect x="245" y="1" width="3" height="1" fill="#a8a8a8" shape-rendering="crispEdges"/>
<rect x="245" y="3" width="3" height="1" fill="#a8a8a8" shape-rendering="crispEdges"/>
<rect x="245" y="5" width="3" height="1" fill="#a8a8a8" shape-rendering="crispEdges"/>
<rect x="245" y="7" width="3" height="1" fill="#a8a8a8" shape-rendering="crispEdges"/>
<rect x="245" y="9" width="3" height="1" fill="#a8a8a8" shape-rendering="crispEdges"/>
<rect x="245" y="11" width="3" height="1" fill="#a8a8a8" shape-rendering="crispEdges"/>
<rect x="245" y="13" width="3" height="1" fill="#a8a8a8" shape-rendering="crispEdges"/>
<rect x="245" y="15" width="3" height="1" fill="#a8a8a8" shape-rendering="crispEdges"/>
<g stroke="#555" stroke-width="1.1" fill="#555"><line x1="259.5" y1="2" x2="259.5" y2="15"/><line x1="257.0" y1="12.5" x2="269.5" y2="12.5"/><polygon points="257.7,3.5 261.3,3.5 259.5,0.8" stroke="none"/><polygon points="268.5,10.7 268.5,14.3 271.1,12.5" stroke="none"/></g>
<g stroke="#0a8a0a" stroke-width="1.4" fill="none"><line x1="265.5" y1="2" x2="265.5" y2="10.8"/><line x1="265.5" y1="3.3" x2="268" y2="3.3"/><line x1="263" y1="9.5" x2="265.5" y2="9.5"/></g>
<rect x="281" y="0" width="23" height="17" fill="url(#chk)" shape-rendering="crispEdges"/>
<rect x="280" y="0" width="1" height="17" fill="#a0a0a0" shape-rendering="crispEdges"/>
<g stroke="#555" stroke-width="1.1" fill="#555"><line x1="287.5" y1="2" x2="287.5" y2="15"/><line x1="285.0" y1="12.5" x2="297.5" y2="12.5"/><polygon points="285.7,3.5 289.3,3.5 287.5,0.8" stroke="none"/><polygon points="296.5,10.7 296.5,14.3 299.1,12.5" stroke="none"/></g>
<line x1="293.5" y1="0" x2="293.5" y2="10.8" stroke="#0a8a0a" stroke-width="1.3"/><rect x="291.3" y="1.7" width="4.6" height="7" fill="url(#gcand)" stroke="#0a9a0a" stroke-width="1"/>
<g stroke="#555" stroke-width="1.1" fill="#555"><line x1="315.5" y1="2" x2="315.5" y2="15"/><line x1="313.0" y1="12.5" x2="325.5" y2="12.5"/><polygon points="313.7,3.5 317.3,3.5 315.5,0.8" stroke="none"/><polygon points="324.5,10.7 324.5,14.3 327.1,12.5" stroke="none"/></g>
<path d="M314.2,9.6 C316.5,8.5 317.8,4.2 319.8,4.2 C321.8,4.2 323,7.4 325.8,8" fill="none" stroke="#2a9a2a" stroke-width="1.4"/>
<rect x="336" y="0" width="1" height="17" fill="#a0a0a0" shape-rendering="crispEdges"/><rect x="337" y="0" width="1" height="17" fill="#fff" shape-rendering="crispEdges"/>
<line x1="354.6" y1="8.8" x2="360" y2="13.8" stroke="#b88a00" stroke-width="3.2"/><line x1="354.8" y1="8.6" x2="360" y2="13.4" stroke="#f0cc30" stroke-width="1.6"/>
<circle cx="351" cy="4.8" r="5.4" fill="#d6f0fc" stroke="#2a72c0" stroke-width="1.1"/>
<line x1="348" y1="5" x2="354" y2="5" stroke="#3a86b0" stroke-width="1.6"/>
<line x1="351" y1="2" x2="351" y2="8" stroke="#3a86b0" stroke-width="1.6"/>
<line x1="382.6" y1="8.8" x2="388" y2="13.8" stroke="#b88a00" stroke-width="3.2"/><line x1="382.8" y1="8.6" x2="388" y2="13.4" stroke="#f0cc30" stroke-width="1.6"/>
<circle cx="379" cy="4.8" r="5.4" fill="#d6f0fc" stroke="#2a72c0" stroke-width="1.1"/>
<line x1="376" y1="5" x2="382" y2="5" stroke="#3a86b0" stroke-width="1.6"/>
<rect x="401" y="-1" width="8" height="7.6" fill="#2fa012"/><path d="M402.5,5.5 v-3.4 h5 v3.4 h-1 v-1.2 h-3 v1.2 z" fill="#fff"/><rect x="402.2" y="0" width="0.9" height="0.9" fill="#dfe8ff"/>
<rect x="409" y="-1" width="8" height="7.6" fill="#2454d0"/><path d="M410.5,5.5 v-3.4 h5 v3.4 h-1 v-1.2 h-3 v1.2 z" fill="#fff"/><rect x="410.2" y="0" width="0.9" height="0.9" fill="#dfe8ff"/>
<rect x="401" y="7.2" width="8" height="7.6" fill="#2454d0"/><path d="M402.5,13.7 v-3.4 h5 v3.4 h-1 v-1.2 h-3 v1.2 z" fill="#fff"/><rect x="402.2" y="8.2" width="0.9" height="0.9" fill="#dfe8ff"/>
<rect x="409" y="7.2" width="8" height="7.6" fill="#2fa012"/><path d="M410.5,13.7 v-3.4 h5 v3.4 h-1 v-1.2 h-3 v1.2 z" fill="#fff"/><rect x="410.2" y="8.2" width="0.9" height="0.9" fill="#dfe8ff"/>
<rect x="426" y="0" width="1" height="17" fill="#a0a0a0" shape-rendering="crispEdges"/><rect x="427" y="0" width="1" height="17" fill="#fff" shape-rendering="crispEdges"/>
<rect x="432" y="0" width="24" height="17" fill="url(#chk)" shape-rendering="crispEdges"/>
<rect x="431" y="0" width="1" height="17" fill="#a0a0a0" shape-rendering="crispEdges"/>
<g stroke="#555" stroke-width="1.1" fill="#555"><line x1="439.5" y1="2" x2="439.5" y2="15"/><line x1="437.0" y1="12.5" x2="449.5" y2="12.5"/><polygon points="437.7,3.5 441.3,3.5 439.5,0.8" stroke="none"/><polygon points="448.5,10.7 448.5,14.3 451.1,12.5" stroke="none"/></g>
<polygon points="444.2,3.2 444.2,9.8 448,6.5" fill="#7be07b" stroke="#0f9a0f" stroke-width="1"/>
<rect x="460" y="0" width="24" height="17" fill="url(#chk)" shape-rendering="crispEdges"/>
<rect x="459" y="0" width="1" height="17" fill="#a0a0a0" shape-rendering="crispEdges"/>
<g stroke="#555" stroke-width="1.1" fill="#555"><line x1="467.5" y1="2" x2="467.5" y2="15"/><line x1="465.0" y1="12.5" x2="477.5" y2="12.5"/><polygon points="465.7,3.5 469.3,3.5 467.5,0.8" stroke="none"/><polygon points="476.5,10.7 476.5,14.3 479.1,12.5" stroke="none"/></g>
<line x1="473.5" y1="1" x2="473.5" y2="11" stroke="#1070b0" stroke-width="1.5"/>
<line x1="475" y1="6.5" x2="479" y2="6.5" stroke="#d04000" stroke-width="1.2"/><polygon points="474.4,6.5 477.2,4.3 476.6,6.5 477.2,8.7" fill="#d04000"/>
<rect x="488" y="0" width="1" height="17" fill="#a0a0a0" shape-rendering="crispEdges"/><rect x="489" y="0" width="1" height="17" fill="#fff" shape-rendering="crispEdges"/>
<path d="M498.5,-1 L506.5,-1 L509.8,2.3 L509.8,12.3 L498.5,12.3 Z" fill="#fbfbfb" stroke="#8a8a8a" stroke-width="0.9"/><path d="M501.5,1 v7" stroke="#6a6040" stroke-width="1"/>
<path d="M506.1,5.4 h3.8 v3.9 h3.9 v3.7 h-3.9 v3.9 h-3.8 v-3.9 h-3.9 v-3.7 h3.9 z" fill="url(#gplus)" stroke="#0c8a0c" stroke-width="0.7"/>
<polygon points="519.6,6 525.6,6 522.6,9.3" fill="#000"/>
<circle cx="544" cy="7.1" r="6.7" fill="#fdfdfd" stroke="url(#gblue)" stroke-width="2.8"/><path d="M543.4,3.2 v4.4 h3.4" fill="none" stroke="#333" stroke-width="1.1"/>
<polygon points="558.6,6 564.6,6 561.6,9.3" fill="#000"/>
<rect x="575.4" y="-1" width="15.4" height="14.6" fill="#fff" stroke="#3a78c8" stroke-width="1.2"/><rect x="575" y="-1" width="16" height="2.6" fill="#3a78c8"/><line x1="575" y1="8.3" x2="591" y2="8.3" stroke="#3a78c8" stroke-width="1"/>
<polyline points="577.3,6.2 579.6,6.2 581.6,4.6 583.8,5.6 586.4,4.4 588.8,4.4" fill="none" stroke="#a02808" stroke-width="1.2"/><polyline points="578,11.5 580.4,10.4 582.6,11.4 585.6,9.4 588.4,11.6" fill="none" stroke="#128a12" stroke-width="1.2"/>
<polygon points="597.6,6 603.6,6 600.6,9.3" fill="#000"/>
<rect x="609" y="0" width="1" height="19" fill="#a0a0a0" shape-rendering="crispEdges"/><rect x="610" y="0" width="1" height="19" fill="#fff" shape-rendering="crispEdges"/>
<rect x="613" y="1" width="3" height="1" fill="#a8a8a8" shape-rendering="crispEdges"/>
<rect x="613" y="3" width="3" height="1" fill="#a8a8a8" shape-rendering="crispEdges"/>
<rect x="613" y="5" width="3" height="1" fill="#a8a8a8" shape-rendering="crispEdges"/>
<rect x="613" y="7" width="3" height="1" fill="#a8a8a8" shape-rendering="crispEdges"/>
<rect x="613" y="9" width="3" height="1" fill="#a8a8a8" shape-rendering="crispEdges"/>
<rect x="613" y="11" width="3" height="1" fill="#a8a8a8" shape-rendering="crispEdges"/>
<rect x="613" y="13" width="3" height="1" fill="#a8a8a8" shape-rendering="crispEdges"/>
<rect x="613" y="15" width="3" height="1" fill="#a8a8a8" shape-rendering="crispEdges"/>
<rect x="620" y="0" width="24" height="17" fill="url(#chk)" shape-rendering="crispEdges"/>
<rect x="619" y="0" width="1" height="17" fill="#a0a0a0" shape-rendering="crispEdges"/>
<polygon points="627.2,-1 627.2,10.9 629.6,8.9 632.2,14 634.1,13.1 631.6,8 635.2,7.6" fill="#4d4d4d"/>
<g stroke="#404040" stroke-width="1.1"><line x1="652" y1="7.5" x2="658" y2="7.5"/><line x1="661" y1="7.5" x2="667" y2="7.5"/><line x1="659.5" y1="0" x2="659.5" y2="6"/><line x1="659.5" y1="9" x2="659.5" y2="14.8"/><line x1="659" y1="7.5" x2="660" y2="7.5"/></g>
<rect x="676" y="0" width="1" height="17" fill="#a0a0a0" shape-rendering="crispEdges"/><rect x="677" y="0" width="1" height="17" fill="#fff" shape-rendering="crispEdges"/>
<g stroke="#454545" stroke-width="1.3"><line x1="693.5" y1="1" x2="693.5" y2="14"/><line x1="716" y1="7.5" x2="728" y2="7.5"/><line x1="744" y1="13.8" x2="756" y2="1.8"/></g>
<g stroke="#454545" stroke-width="1.1"><line x1="770" y1="9" x2="778.5" y2="0.5"/><line x1="771.5" y1="13" x2="783.5" y2="1.5"/><line x1="775" y1="13.6" x2="784" y2="5"/><g stroke-width="0.8"><line x1="772" y1="7" x2="773.5" y2="12"/><line x1="774.5" y1="4.5" x2="776.5" y2="11"/><line x1="777" y1="2" x2="779" y2="8.5"/><line x1="780.5" y1="0" x2="782" y2="6"/></g></g>
<text x="780.6" y="15.6" font-size="6.6" font-weight="bold" fill="#333" font-family="Liberation Sans, sans-serif">E</text>
<line x1="799" y1="0.5" x2="812.5" y2="0.5" stroke="#454545" stroke-width="1" stroke-dasharray="1 1"/>
<line x1="799" y1="3.3" x2="812.5" y2="3.3" stroke="#454545" stroke-width="1" stroke-dasharray="1 1"/>
<line x1="799" y1="7.3" x2="812.5" y2="7.3" stroke="#454545" stroke-width="1" stroke-dasharray="1 1"/>
<line x1="799" y1="11.4" x2="808" y2="11.4" stroke="#454545" stroke-width="1" stroke-dasharray="1 1"/>
<text x="808.8" y="15.6" font-size="6.6" font-weight="bold" fill="#333" font-family="Liberation Sans, sans-serif">F</text>
<text x="829.3" y="11.7" font-size="11.8" fill="#5a5a5a" font-family="Liberation Sans, sans-serif">A</text>
<rect x="856.5" y="1.2" width="11" height="12" fill="none" stroke="#555" stroke-width="1" stroke-dasharray="1 1"/><text x="858.4" y="11.7" font-size="10.5" fill="#555" font-family="Liberation Sans, sans-serif" textLength="7.4" lengthAdjust="spacingAndGlyphs">T</text>
<polygon points="886.3,0.8 889.6,3.8 886.3,5.4 883,3.8" fill="#505050"/><polygon points="893.4,13.6 896.8,10.4 893.4,8.8 890,10.4" fill="#505050"/><polyline points="885.5,8.2 887.4,10 891.8,5.6" fill="none" stroke="#505050" stroke-width="1.3"/>
<polygon points="903.6,6 909.6,6 906.6,9.3" fill="#000"/>
<rect x="915" y="0" width="1" height="19" fill="#a0a0a0" shape-rendering="crispEdges"/><rect x="916" y="0" width="1" height="19" fill="#fff" shape-rendering="crispEdges"/>
<rect x="919" y="1" width="3" height="1" fill="#a8a8a8" shape-rendering="crispEdges"/>
<rect x="919" y="3" width="3" height="1" fill="#a8a8a8" shape-rendering="crispEdges"/>
<rect x="919" y="5" width="3" height="1" fill="#a8a8a8" shape-rendering="crispEdges"/>
<rect x="919" y="7" width="3" height="1" fill="#a8a8a8" shape-rendering="crispEdges"/>
<rect x="919" y="9" width="3" height="1" fill="#a8a8a8" shape-rendering="crispEdges"/>
<rect x="919" y="11" width="3" height="1" fill="#a8a8a8" shape-rendering="crispEdges"/>
<rect x="919" y="13" width="3" height="1" fill="#a8a8a8" shape-rendering="crispEdges"/>
<rect x="919" y="15" width="3" height="1" fill="#a8a8a8" shape-rendering="crispEdges"/>
<rect x="1066" y="0" width="24" height="17" fill="url(#chk)" shape-rendering="crispEdges"/>
<rect x="1065" y="0" width="1" height="17" fill="#a0a0a0" shape-rendering="crispEdges"/>
<text text-rendering="geometricPrecision" transform="translate(937,10.9) scale(1,1.08)" font-size="9.3" fill="#3a3a3a" text-anchor="middle" font-family="Liberation Sans, sans-serif">M1</text>
<text text-rendering="geometricPrecision" transform="translate(964.8,10.9) scale(1,1.08)" font-size="9.3" fill="#3a3a3a" text-anchor="middle" font-family="Liberation Sans, sans-serif">M5</text>
<text text-rendering="geometricPrecision" transform="translate(993.2,10.9) scale(1,1.08)" font-size="9.3" fill="#3a3a3a" text-anchor="middle" font-family="Liberation Sans, sans-serif">M15</text>
<text text-rendering="geometricPrecision" transform="translate(1021.8,10.9) scale(1,1.08)" font-size="9.3" fill="#3a3a3a" text-anchor="middle" font-family="Liberation Sans, sans-serif">M30</text>
<text text-rendering="geometricPrecision" transform="translate(1049.4,10.9) scale(1,1.08)" font-size="9.3" fill="#3a3a3a" text-anchor="middle" font-family="Liberation Sans, sans-serif">H1</text>
<text text-rendering="geometricPrecision" transform="translate(1076.6,10.9) scale(1,1.08)" font-size="9.3" fill="#3a3a3a" text-anchor="middle" font-family="Liberation Sans, sans-serif">H4</text>
<text text-rendering="geometricPrecision" transform="translate(1105.5,10.9) scale(1,1.08)" font-size="9.3" fill="#3a3a3a" text-anchor="middle" font-family="Liberation Sans, sans-serif">D1</text>
<text text-rendering="geometricPrecision" transform="translate(1134,10.9) scale(1,1.08)" font-size="9.3" fill="#3a3a3a" text-anchor="middle" font-family="Liberation Sans, sans-serif">W1</text>
<text text-rendering="geometricPrecision" transform="translate(1161,10.9) scale(1,1.08)" font-size="9.3" fill="#3a3a3a" text-anchor="middle" font-family="Liberation Sans, sans-serif">MN</text>
<rect x="1176" y="0" width="1" height="17" fill="#a0a0a0" shape-rendering="crispEdges"/><rect x="1177" y="0" width="1" height="17" fill="#fff" shape-rendering="crispEdges"/>
<line x1="1643.4" y1="8" x2="1639" y2="12" stroke="#2a62d4" stroke-width="2.6" stroke-linecap="round"/><circle cx="1646.6" cy="4.3" r="3.9" fill="#fdfdff" stroke="#2a62d4" stroke-width="1.3"/>
<path d="M1663,8.6 C1663,3.2 1674.6,3.2 1674.6,8.6 C1674.6,12 1671,13 1668.6,13 L1666.4,15.6 L1666.6,12.8 C1664.4,12.2 1663,10.8 1663,8.6 Z" fill="#e4e4ec" stroke="#a8a8a8" stroke-width="0.9"/>
<circle cx="1677.4" cy="4.5" r="8.4" fill="url(#gred)"/>
<text x="1676.9" y="8.8" font-size="13" font-weight="bold" fill="#fff" text-anchor="middle" font-family="Liberation Serif, serif">1</text>
</g>
</svg>
</body></html>
